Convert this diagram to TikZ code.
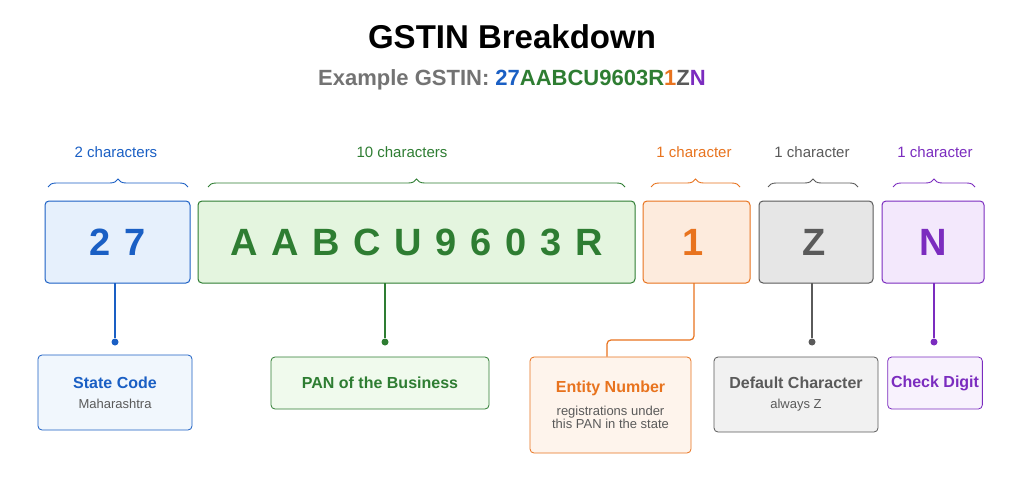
\documentclass[tikz,border=0pt]{standalone}
\usepackage{fontspec}
\setmainfont{Liberation Sans}
\usetikzlibrary{decorations.pathreplacing}
\definecolor{cblue}{HTML}{1A5FC4}\definecolor{fblue}{HTML}{E6F0FC}
\definecolor{cgreen}{HTML}{2E7D32}\definecolor{fgreen}{HTML}{E4F5DF}
\definecolor{corange}{HTML}{E8731E}\definecolor{forange}{HTML}{FDEBDD}
\definecolor{cgrey}{HTML}{5A5A5A}\definecolor{fgrey}{HTML}{E6E6E6}
\definecolor{cpurple}{HTML}{7B2CBF}\definecolor{fpurple}{HTML}{F3E8FC}
\newcommand\gp{\hspace{0.36em}}
\tikzset{
  digit/.style={draw=c#1, fill=f#1, line width=1pt, rounded corners=4pt},
  big/.style={text=c#1, font=\bfseries\fontsize{38}{38}\selectfont},
  info/.style={draw=c#1, fill=f#1!55, line width=0.8pt, rounded corners=4pt, align=center},
  cnt/.style={text=#1, font=\fontsize{15}{17}\selectfont},
  brc/.style={draw=#1, decorate, line width=0.9pt},
  lnk/.style={draw=#1, line width=1.2pt},
  dot/.style={fill=#1, circle, inner sep=0pt, minimum size=7pt}
}
\begin{document}
\begin{tikzpicture}[x=1pt,y=-1pt,decoration={brace,amplitude=8pt}]
  \useasboundingbox[fill=white] (0,0) rectangle (1024,489);
  \node (title) at (512,37) {\bfseries\fontsize{33}{35}\selectfont GSTIN Breakdown};
  \node (sub) at (512,80) {\bfseries\fontsize{22}{24}\selectfont\color{cgrey!85}Example GSTIN:
    \color{cblue}27\color{cgreen}AABCU9603R\color{corange}1\color{cgrey}Z\color{cpurple}N};
  % top row
  \path[digit=blue] (45,201) rectangle (190,283);
  \node[big=blue] (st) at (117.5,242) {2\gp7};
  \path[digit=green] (198,201) rectangle (635,283);
  \node[big=green] (pan) at (416.5,242)
    {A\gp A\gp B\gp C\gp U\gp 9\gp 6\gp 0\gp 3\gp R};
  \path[digit=orange] (643,201) rectangle (750,283);
  \node[big=orange] (ent) at (693,242) {1};
  \path[digit=grey] (759,201) rectangle (873,283);
  \node[big=grey] (def) at (814,242) {Z};
  \path[digit=purple] (882,201) rectangle (984,283);
  \node[big=purple] (chk) at (933,242) {N};
  % braces and counts
  \draw[brc=cblue] (48,187) -- (188,187);
  \node[cnt=cblue] (c1) at (116,152) {2 characters};
  \draw[brc=cgreen] (208,187) -- (625,187);
  \node[cnt=cgreen] (c2) at (402,152) {10 characters};
  \draw[brc=corange] (651,187) -- (740,187);
  \node[cnt=corange] (c3) at (694,152) {1 character};
  \draw[brc=cgrey] (768,187) -- (858,187);
  \node[cnt=cgrey] (c4) at (812,152) {1 character};
  \draw[brc=cpurple] (893,187) -- (975,187);
  \node[cnt=cpurple] (c5) at (935,152) {1 character};
  % lower boxes
  \node[info=blue, minimum width=154pt, minimum height=75pt] (b1) at (115,392.5)
    {\textcolor{cblue}{\bfseries\fontsize{16}{18}\selectfont State Code}\\[8pt]
     \textcolor{cgrey}{\fontsize{13}{15}\selectfont Maharashtra}};
  \node[info=green, minimum width=218pt, minimum height=52pt] (b2) at (380,383)
    {\textcolor{cgreen}{\bfseries\fontsize{16}{18}\selectfont PAN of the Business}};
  \node[info=orange, minimum width=161pt, minimum height=96pt] (b3) at (610.5,405)
    {\textcolor{corange}{\bfseries\fontsize{16}{18}\selectfont Entity Number}\\[9pt]
     \textcolor{cgrey}{\fontsize{13}{22}\selectfont registrations under}\\
     \textcolor{cgrey}{\fontsize{13}{22}\selectfont this PAN in the state}};
  \node[info=grey, minimum width=164pt, minimum height=75pt] (b4) at (796,394.5)
    {\textcolor{cgrey}{\bfseries\fontsize{16}{18}\selectfont Default Character}\\[8pt]
     \textcolor{cgrey}{\fontsize{13}{15}\selectfont always Z}};
  \node[info=purple, minimum width=86pt, minimum height=52pt] (b5) at (935,383)
    {\textcolor{cpurple}{\bfseries\fontsize{16}{18}\selectfont Check Digit}};
  % links
  \node[dot=cblue] (d1) at (115,342) {};
  \node[dot=cgreen] (d2) at (385,342) {};
  \node[dot=cgrey] (d4) at (812,342) {};
  \node[dot=cpurple] (d5) at (934,342) {};
  \coordinate (e0) at (694,283);
  \coordinate (e1) at (607,340);
  \draw[lnk=cblue] (115,283) -- (d1);
  \draw[lnk=cgreen] (385,283) -- (d2);
  \draw[lnk=corange, rounded corners=4pt] (e0) |- (e1) -- (e1 |- b3.north);
  \draw[lnk=cgrey] (812,283) -- (d4);
  \draw[lnk=cpurple] (934,283) -- (d5);
\end{tikzpicture}
\end{document}
